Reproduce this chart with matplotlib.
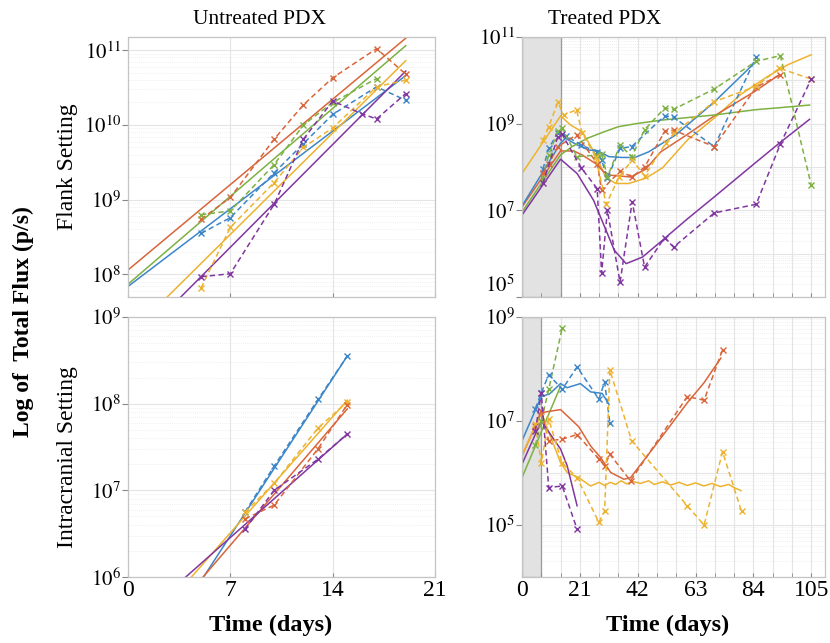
'''Flux curves of untreated and treated PDX, flank and intracranial'''

import matplotlib.pyplot as plt
import numpy as np
from matplotlib.ticker import FixedLocator, NullFormatter

plt.rcParams['font.family'] = ['Liberation Serif', 'DejaVu Serif']
plt.rcParams['mathtext.fontset'] = 'stix'

# MATLAB-like palette
pal = {"blue": "#3C86C8", "orange": "#D9653A", "yellow": "#EDB32F",
       "purple": "#8136A0", "green": "#7DB142"}

# ---- Untreated, flank (log10 of flux) ----
ufl_days = [5, 7, 10, 12, 14, 17, 19]
ufl_orange = [8.74, 9.03, 9.81, 10.27, 10.63, 11.02, 10.68]
ufl_blue = [8.55, 8.76, 9.36, 9.75, 10.14, 10.51, 10.33]
ufl_yellow = [7.82, 8.63, 9.23, 9.70, 9.96, 10.51, 10.60]
ufl_green_days = [5, 7, 10, 12, 14, 17]
ufl_green = [8.80, 8.85, 9.47, 10.0, 10.30, 10.62]
ufl_purple_days = [5, 7, 10, 12, 14, 16, 17, 19]
ufl_purple = [7.97, 8.01, 8.94, 9.81, 10.32, 10.15, 10.08, 10.42]
# fitted growth lines, value at day 0 and day 19
ufl_fit_days = [0, 19]
ufl_fit = {"orange": [8.06, 11.16], "green": [7.87, 11.06], "blue": [7.84, 10.66],
           "yellow": [7.18, 10.86], "purple": [6.99, 10.72]}

# ---- Untreated, intracranial ----
uic_days = [8, 10, 13, 15]
uic_blue = [6.75, 7.28, 8.05, 8.55]
uic_yellow = [6.75, 7.08, 7.72, 8.02]
uic_orange = [6.67, 6.83, 7.48, 7.99]
uic_purple = [6.55, 7.0, 7.36, 7.65]
uic_fit_days = [0, 15]
uic_fit = {"blue": [4.66, 8.55], "yellow": [5.17, 8.04],
           "orange": [4.99, 7.94], "purple": [5.41, 7.65]}

# ---- Treated, flank: measured ----
tfl_blue_days = [7.6, 9.7, 13, 16, 21.6, 27.3, 28.9, 31, 35.6, 39.8, 51.8, 55, 69.8, 85]
tfl_blue = [7.95, 8.43, 8.79, 8.72, 8.50, 8.35, 8.16, 7.74, 8.43, 8.47, 9.18, 9.15, 8.47, 10.54]
tfl_green_days = [7.6, 9.7, 13, 14.6, 20, 26.7, 28.9, 31, 35.6, 39.8, 44.5, 51.8, 55,
                  69.8, 85, 93.8, 105]
tfl_green = [7.75, 8.28, 8.82, 8.89, 8.24, 8.27, 8.31, 7.77, 8.51, 8.24, 8.86, 9.36, 9.33,
             9.80, 10.44, 10.57, 7.58]
tfl_orange_days = [7.6, 9.7, 13, 19.8, 27.3, 28.9, 35.6, 40, 44.5, 51.8, 55, 69.8, 85, 93.8]
tfl_orange = [7.85, 8.08, 8.47, 8.74, 8.08, 7.47, 7.90, 7.77, 8.0, 8.82, 8.85, 8.47, 9.84, 10.13]
tfl_yellow_days = [7.6, 9.7, 13, 15.2, 19.8, 21.8, 26.7, 30.6, 35.2, 40, 44.5, 52.2, 55.2,
                   69.8, 85, 93.4, 105]
tfl_yellow = [8.62, 8.93, 9.49, 9.20, 9.32, 8.79, 8.24, 7.14, 7.77, 8.16, 7.80, 8.55, 8.78,
              9.51, 9.86, 10.28, 10.03]
tfl_purple_days = [7.6, 13, 14.6, 21.6, 27.3, 28.9, 31, 35.6, 40, 44.5, 51.8, 55, 69.8, 85,
                   93.8, 105]
tfl_purple = [7.62, 8.70, 8.75, 7.97, 7.50, 5.55, 7.0, 5.34, 7.20, 5.69, 6.37, 6.15, 6.94,
              7.14, 8.53, 10.03]

# ---- Treated, flank: model ----
tfl_m_yellow_days = [0, 14, 17.6, 21.9, 26.8, 30.3, 34, 38.8, 44.9, 51, 60, 69.8, 79.5, 89.2,
                     96.5, 105]
tfl_m_yellow = [7.85, 9.18, 8.97, 8.81, 8.28, 7.77, 7.62, 7.62, 7.74, 7.98, 8.62, 9.13, 9.68,
                10.09, 10.36, 10.59]
tfl_m_orange_days = [0, 14, 18.8, 21.8, 26.7, 29.7, 32.2, 39.5, 44.9, 50.4, 60, 69.8, 84.4, 93.4]
tfl_m_orange = [7.08, 8.37, 8.37, 8.28, 8.08, 7.89, 7.81, 7.77, 7.95, 8.35, 8.75, 9.18, 9.74,
                10.13]
tfl_m_blue_days = [0, 14, 15.8, 20, 24.3, 27.3, 31.5, 36.4, 41, 46, 51, 55.8, 69.8, 84.4]
tfl_m_blue = [7.10, 8.55, 8.66, 8.51, 8.39, 8.38, 8.24, 8.22, 8.22, 8.35, 8.55, 8.74, 9.50, 10.40]
tfl_m_green_days = [0, 14, 18.2, 23.6, 29.7, 35, 41.4, 50.4, 60, 69.8, 84.4, 93.8, 104.4]
tfl_m_green = [6.96, 8.28, 8.47, 8.66, 8.81, 8.93, 9.0, 9.08, 9.14, 9.2, 9.32, 9.37, 9.43]
tfl_m_purple_days = [0, 14, 20, 26, 30.5, 33.5, 37.8, 43.7, 51, 60, 69.8, 84.4, 93.4, 104.4]
tfl_m_purple = [6.89, 8.18, 7.85, 7.23, 6.54, 6.08, 5.77, 5.92, 6.31, 6.80, 7.31, 8.08, 8.55, 9.10]

# ---- Treated, intracranial: measured ----
tic_green_days = [4.85, 7, 9.7, 14.6]
tic_green = [6.53, 7.0, 7.61, 8.79]
tic_blue_days = [4.85, 7, 9.7, 14.6, 20, 27.9, 30, 31.9]
tic_blue = [7.24, 7.54, 7.89, 7.61, 8.04, 7.42, 7.75, 6.96]
tic_orange_days = [4.85, 7, 9.7, 14.6, 20, 27.9, 30, 31.9, 39.4, 60, 66.1, 72.8]
tic_orange = [6.90, 7.20, 6.62, 6.65, 6.74, 6.27, 6.14, 6.36, 5.85, 7.47, 7.40, 8.37]
tic_yellow_days = [4.85, 7, 9.7, 14.6, 20, 27.9, 30, 31.9, 39.8, 60, 66.1, 72.8, 79.7]
tic_yellow = [6.94, 6.19, 7.03, 6.19, 5.91, 5.05, 5.27, 7.98, 6.62, 5.37, 5.0, 6.41, 5.26]
tic_purple_days = [4.85, 7, 9.7, 14.6, 20]
tic_purple = [6.81, 7.54, 5.72, 5.75, 4.92]

# ---- Treated, intracranial: model ----
tic_m_green_days = [0, 14]
tic_m_green = [5.91, 7.67]
tic_m_blue_days = [0, 7, 10, 14, 16.4, 21.2, 24.9, 29.1, 31.6]
tic_m_blue = [6.62, 7.47, 7.52, 7.72, 7.64, 7.72, 7.56, 7.53, 7.32]
tic_m_orange_days = [0, 7, 14, 16.4, 20.6, 24.9, 28.5, 32.2, 37, 39.4, 45.5, 52.8, 60, 66, 72.2]
tic_m_orange = [6.33, 7.16, 7.22, 7.10, 6.89, 6.52, 6.30, 6.01, 5.88, 5.91, 6.33, 6.84, 7.35,
                7.73, 8.21]
tic_m_yellow_days = [0, 7, 14, 16.4, 20.6, 24.9, 28, 30, 32, 34, 36, 38, 40, 43, 46, 48, 51,
                     54, 57, 60, 63, 66, 69, 72, 75, 77, 79.5]
tic_m_yellow = [6.34, 7.16, 6.20, 6.01, 5.91, 5.75, 5.82, 5.76, 5.82, 5.78, 5.85, 5.79, 5.84,
                5.80, 5.85, 5.78, 5.83, 5.77, 5.82, 5.76, 5.81, 5.75, 5.80, 5.74, 5.78, 5.72, 5.66]
tic_m_purple_days = [0, 7, 14, 16.4, 20]
tic_m_purple = [6.17, 7.0, 6.46, 6.14, 5.37]


def flux(logs):
    return 10.0 ** np.asarray(logs)


def data_line(ax, days, logs, color):
    ax.plot(days, flux(logs), color=pal[color], ls=(0, (3.5, 2.2)), lw=1.1,
            marker="x", ms=4, mew=1.0)


def model_line(ax, days, logs, color):
    ax.plot(days, flux(logs), color=pal[color], lw=1.1)


def style_axes(ax, xmax, xmajor, xminor, ylim, yticks, show_x):
    ax.set_yscale("log")
    ax.set_xlim(0, xmax)
    ax.set_ylim(*ylim)
    ax.xaxis.set_major_locator(FixedLocator(xmajor))
    ax.xaxis.set_minor_locator(FixedLocator(xminor))
    ax.yaxis.set_major_locator(FixedLocator(yticks))
    ax.yaxis.set_major_formatter(plt.FuncFormatter(
        lambda v, p: r"$10^{%d}$" % round(np.log10(v))))
    ax.yaxis.set_minor_formatter(NullFormatter())
    if not show_x:
        ax.set_xticklabels([])
    else:
        ax.set_xticklabels([str(d) for d in xmajor])
    ax.tick_params(axis="y", which="major", direction="out", length=4,
                   labelsize=15, pad=1, color="#888888")
    ax.tick_params(axis="y", which="minor", length=0)
    ax.tick_params(axis="x", which="both", direction="in", length=3,
                   labelsize=17, pad=2, color="#888888")
    # decade grid lines and fine dotted grid
    lo, hi = np.log10(ylim)
    for e in range(int(np.floor(lo)), int(np.ceil(hi)) + 1):
        ax.axhline(10.0 ** e, color="#E4E4E4", lw=0.8, zorder=0)
        for k in range(2, 10):
            ax.axhline(k * 10.0 ** e, color="#EBEBEB", lw=0.6, ls=(0, (1, 1.5)), zorder=0)
    for d in xminor:
        ax.axvline(d, color="#E4E4E4", lw=0.8, zorder=0)
    for s in ax.spines.values():
        s.set_color("#C4C4C4")
        s.set_linewidth(0.9)


fig = plt.figure(figsize=(8.3, 6.43), dpi=100)
W, H = 830.0, 643.0

ax_tl = fig.add_axes([128 / W, 1 - 297 / H, 307 / W, 260 / H])
ax_tr = fig.add_axes([522 / W, 1 - 297 / H, 303 / W, 260 / H])
ax_bl = fig.add_axes([128 / W, 1 - 577 / H, 307 / W, 260 / H])
ax_br = fig.add_axes([522 / W, 1 - 577 / H, 303 / W, 260 / H])

# Untreated flank
for c in ["orange", "green", "blue", "yellow", "purple"]:
    model_line(ax_tl, ufl_fit_days, ufl_fit[c], c)
data_line(ax_tl, ufl_days, ufl_orange, "orange")
data_line(ax_tl, ufl_green_days, ufl_green, "green")
data_line(ax_tl, ufl_days, ufl_blue, "blue")
data_line(ax_tl, ufl_days, ufl_yellow, "yellow")
data_line(ax_tl, ufl_purple_days, ufl_purple, "purple")
style_axes(ax_tl, 21, [0, 7, 14, 21], [7, 14], (5e7, 1.5e11),
           [1e8, 1e9, 1e10, 1e11], False)

# Treated flank
ax_tr.axvspan(0, 14, facecolor="#E2E2E2", edgecolor="#9A9A9A", lw=0.9, zorder=0.5)
model_line(ax_tr, tfl_m_yellow_days, tfl_m_yellow, "yellow")
model_line(ax_tr, tfl_m_orange_days, tfl_m_orange, "orange")
model_line(ax_tr, tfl_m_blue_days, tfl_m_blue, "blue")
model_line(ax_tr, tfl_m_green_days, tfl_m_green, "green")
model_line(ax_tr, tfl_m_purple_days, tfl_m_purple, "purple")
data_line(ax_tr, tfl_blue_days, tfl_blue, "blue")
data_line(ax_tr, tfl_green_days, tfl_green, "green")
data_line(ax_tr, tfl_orange_days, tfl_orange, "orange")
data_line(ax_tr, tfl_yellow_days, tfl_yellow, "yellow")
data_line(ax_tr, tfl_purple_days, tfl_purple, "purple")
style_axes(ax_tr, 110, [0, 21, 42, 63, 84, 105], list(range(7, 110, 7)), (1e5, 1e11),
           [1e5, 1e7, 1e9, 1e11], False)
# lowest label sits just above the corner, clear of the panel below
ax_tr.get_yticklabels()[0].set_va("bottom")

# Untreated intracranial
for c in ["blue", "yellow", "orange", "purple"]:
    model_line(ax_bl, uic_fit_days, uic_fit[c], c)
data_line(ax_bl, uic_days, uic_blue, "blue")
data_line(ax_bl, uic_days, uic_yellow, "yellow")
data_line(ax_bl, uic_days, uic_orange, "orange")
data_line(ax_bl, uic_days, uic_purple, "purple")
style_axes(ax_bl, 21, [0, 7, 14, 21], [7, 14], (1e6, 1e9),
           [1e6, 1e7, 1e8, 1e9], True)

# Treated intracranial
ax_br.axvspan(0, 7, facecolor="#E2E2E2", edgecolor="#9A9A9A", lw=0.9, zorder=0.5)
model_line(ax_br, tic_m_green_days, tic_m_green, "green")
model_line(ax_br, tic_m_blue_days, tic_m_blue, "blue")
model_line(ax_br, tic_m_orange_days, tic_m_orange, "orange")
model_line(ax_br, tic_m_yellow_days, tic_m_yellow, "yellow")
model_line(ax_br, tic_m_purple_days, tic_m_purple, "purple")
data_line(ax_br, tic_green_days, tic_green, "green")
data_line(ax_br, tic_blue_days, tic_blue, "blue")
data_line(ax_br, tic_orange_days, tic_orange, "orange")
data_line(ax_br, tic_yellow_days, tic_yellow, "yellow")
data_line(ax_br, tic_purple_days, tic_purple, "purple")
style_axes(ax_br, 110, [0, 21, 42, 63, 84, 105], list(range(7, 110, 7)), (1e4, 1e9),
           [1e5, 1e7, 1e9], True)

# Titles and labels
fig.text(259 / W, 1 - 20 / H, "Untreated PDX", ha="center", va="center", fontsize=15.5)
fig.text(605 / W, 1 - 20 / H, "Treated PDX", ha="center", va="center", fontsize=15.5)
fig.text(67 / W, 1 - 167 / H, "Flank Setting", rotation=90, ha="center", va="center",
         fontsize=17)
fig.text(67 / W, 1 - 457 / H, "Intracranial Setting", rotation=90, ha="center",
         va="center", fontsize=17)
fig.text(23 / W, 1 - 322 / H, "Log of  Total Flux (p/s)", rotation=90, ha="center",
         va="center", fontsize=17, fontweight="bold")
fig.text(271 / W, 1 - 625 / H, "Time (days)", ha="center", va="center", fontsize=17.5,
         fontweight="bold")
fig.text(668 / W, 1 - 625 / H, "Time (days)", ha="center", va="center", fontsize=17.5,
         fontweight="bold")

fig.savefig("out.png", dpi=100)
